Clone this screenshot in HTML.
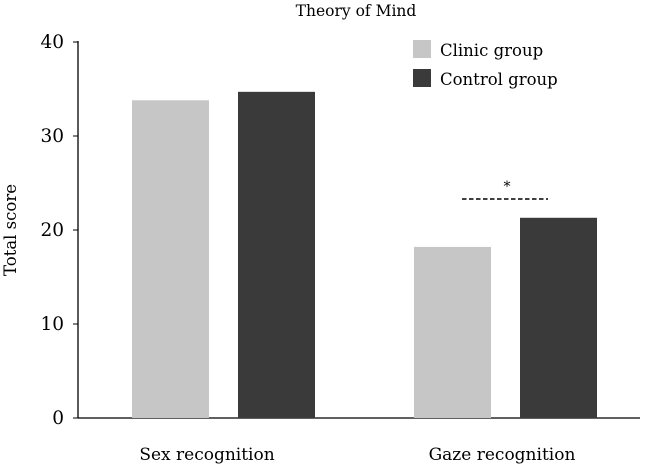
<!DOCTYPE html>
<html><head><meta charset="utf-8"><style>
body{margin:0;background:#fff;}
svg{display:block;font-family:"DejaVu Serif","Liberation Serif",serif;}
</style></head><body>
<svg id="chart" width="650" height="465">
<text x="356" y="16" font-size="15.5" text-anchor="middle">Theory of Mind</text>
<text transform="translate(16,230) rotate(-90)" font-size="16.5" text-anchor="middle">Total score</text>
<g id="axes"></g><g id="bars"></g>
<g>
<rect x="413" y="40" width="18" height="18" fill="#c6c6c6"/>
<text x="440" y="56" font-size="16.5">Clinic group</text>
<rect x="413" y="69" width="18" height="18" fill="#3a3a3a"/>
<text x="440" y="85" font-size="16.5">Control group</text>
</g>
<line x1="462" y1="199" x2="548" y2="199" stroke="#000" stroke-width="1.4" stroke-dasharray="4.5,2.5"/>
<text x="507" y="191" font-size="14" text-anchor="middle">*</text>
</svg>
<script>
const categories=["Sex recognition","Gaze recognition"];
const clinicValues=[33.8,18.2];
const controlValues=[34.7,21.3];
const yTicks=[0,10,20,30,40];
const NS="http://www.w3.org/2000/svg";
function y(v){return 418-v*9.4;}
const groupX=[132,414];
const labelX=[207,502];
function mk(t,a,p){const e=document.createElementNS(NS,t);for(const k in a)e.setAttribute(k,a[k]);p.appendChild(e);return e;}
const ax=document.getElementById('axes');
let l=mk('line',{x1:78,y1:41,x2:78,y2:418,stroke:'#000','stroke-width':1.3},ax);


l=mk('line',{x1:78,y1:418,x2:640,y2:418,stroke:'#000','stroke-width':1.3},ax);


yTicks.forEach(t=>{
 const tk=mk('line',{x1:73,y1:y(t),x2:78,y2:y(t),stroke:'#000'},ax);
 
 
 const tx=mk('text',{x:64,y:y(t)+6,'font-size':18.5,'text-anchor':'end'},ax);
 tx.textContent=t;
 
 
});
const bg=document.getElementById('bars');
categories.forEach((c,i)=>{
 const x0=groupX[i];
 const b1=mk('rect',{x:x0,y:y(clinicValues[i]),width:77,height:418-y(clinicValues[i]),fill:'#c6c6c6'},bg);
 
 
 const b2=mk('rect',{x:x0+106,y:y(controlValues[i]),width:77,height:418-y(controlValues[i]),fill:'#3a3a3a'},bg);
 
 
 const t=mk('text',{x:labelX[i],y:460,'font-size':17,'text-anchor':'middle'},bg);
 t.textContent=c;
 
 
});
</script>
</body></html>
